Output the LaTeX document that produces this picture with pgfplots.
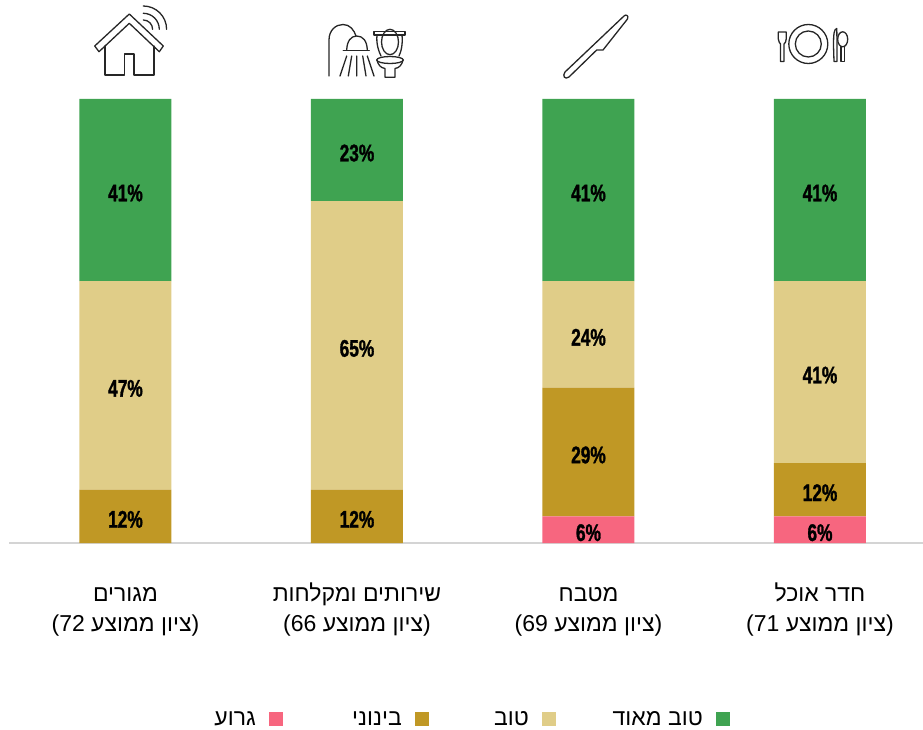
\documentclass[border=0pt]{standalone}
\usepackage{fontspec}
\usepackage{pgfplots}
\pgfplotsset{compat=1.18}
\TeXXeTstate=1
\setmainfont{Liberation Sans}
\newfontfamily\hebfont[Script=Hebrew]{Liberation Sans}
\newfontfamily\valfont[FakeStretch=0.72,BoldFeatures={FakeBold=1.2}]{Liberation Sans}
\definecolor{vgood}{HTML}{3FA351}
\definecolor{good}{HTML}{E0CD88}
\definecolor{mid}{HTML}{C09825}
\definecolor{bad}{HTML}{F7667F}
\definecolor{baseline}{HTML}{D4D4D4}
\pgfplotstableread{
x bad mid good vgood
0 0 12 47 41
1 0 12 65 23
2 6 29 24 41
3 6 12 41 41
}\rooms
\pgfplotsset{
  legsq/.style={legend image code/.code={
    \fill[##1] (0pt,-7pt) rectangle (14pt,7pt);}},
  seg/.style={fill=#1,draw=none,legsq},
}
\begin{document}
\begin{tikzpicture}[x=1pt,y=1pt]
\useasboundingbox (0,0) rectangle (923,729);
\begin{axis}[
  at={(9pt,186pt)},
  anchor=south west,
  scale only axis,
  width=914pt, height=444pt,
  xmin=-0.503, xmax=3.445,
  ymin=0, ymax=100,
  clip=false,
  ybar stacked,
  bar width=92pt,
  axis x line=bottom,
  axis y line=none,
  axis line style={draw=baseline,line width=1.2pt,-},
  xtick={0,1,2,3},
  major tick length=0pt,
  xticklabels={
    {\strut\beginR מגורים\endR\\\strut\beginR(ציון ממוצע \beginL 72\endL)\endR},
    {\strut\beginR שירותים ומקלחות\endR\\\strut\beginR(ציון ממוצע \beginL 66\endL)\endR},
    {\strut\beginR מטבח\endR\\\strut\beginR(ציון ממוצע \beginL 69\endL)\endR},
    {\strut\beginR חדר אוכל\endR\\\strut\beginR(ציון ממוצע \beginL 71\endL)\endR}
  },
  xticklabel style={align=center,font=\fontsize{23}{30}\hebfont,yshift=-34pt},
  nodes near coords={\pgfmathfloatifflags{\pgfplotspointmeta}{0}{}{\pgfmathprintnumber{\pgfplotspointmeta}\%}},
  /pgf/number format/assume math mode=true,
  every node near coord/.append style={
    font=\fontsize{24}{26}\valfont\bfseries, text=black, anchor=center, inner sep=0pt, yshift=-3pt},
  legend columns=4,
  legend plot pos=right,
  legend cell align=right,
  legend style={draw=none,fill=none,inner sep=0pt,at={(205.6pt,-176pt)},anchor=west,
    font=\fontsize{23}{26}\hebfont},
]
\addplot[seg=bad] table[y=bad] {\rooms};
\addlegendentry{\makebox[50pt][r]{\beginR גרוע\endR\hspace{11pt}}}
\addplot[seg=mid] table[y=mid] {\rooms};
\addlegendentry{\makebox[128pt][r]{\beginR בינוני\endR\hspace{11pt}}}
\addplot[seg=good] table[y=good] {\rooms};
\addlegendentry{\makebox[109pt][r]{\beginR טוב\endR\hspace{11pt}}}
\addplot[seg=vgood] table[y=vgood] {\rooms};
\addlegendentry{\makebox[156pt][r]{\beginR טוב מאוד\endR\hspace{11pt}}}
\end{axis}
% icons, in picture pixels from the top left
\begin{scope}[yshift=729pt,y=-1pt,line width=1.3pt,black!85,line join=round,line cap=round]
 % house
 \draw (129.3,14)--(94.7,46)--(99,51.7)--(129.3,23.3)--(159.3,51.7)--(163.3,46)--cycle;
 \draw (105,46)--(105,75)--(124.3,75)--(124.3,54)--(134,54)--(134,75)--(154,75)--(154,46);
 \draw (143.3,6) arc[start angle=-90,end angle=0,radius=23.3];
 \draw (143.3,13.3) arc[start angle=-90,end angle=0,radius=16];
 \draw (143.3,20) arc[start angle=-90,end angle=0,radius=9.3];
 % shower
 \draw (329,76)--(329,40) .. controls (329,30) and (336,24.5) .. (343,24.5) .. controls (350,24.5) and (354,30) .. (356,36);
 \draw (346.7,50) .. controls (347,41) and (351,36) .. (356.7,36) .. controls (363,36) and (367,41) .. (367.3,50);
 \draw (343.3,50.3)--(369.3,50.3);
 \draw (346.7,56)--(340,76) (351.7,56)--(348.3,76) (356.7,56)--(356.7,76) (362.7,56)--(366,76) (367.3,56)--(374,76);
 % toilet
 \draw (374,31.7)--(405,31.7)--(405,35)--(374,35)--cycle;
 \draw (390,42) ellipse[x radius=8.5,y radius=12.7];
 \draw (377,35) .. controls (376,44) and (379,52) .. (381,56);
 \draw (402,35) .. controls (403,44) and (401,52) .. (399,56);
 \draw (390,60) ellipse[x radius=13.3,y radius=3.5];
 \draw (377,60) .. controls (378,65) and (381,68) .. (385,68.5)--(385,77.3)--(395,77.3)--(395,68.5) .. controls (399,68) and (402,65) .. (403,60);
 % knife
 \draw (624,16) .. controls (626,14) and (629,15.5) .. (627.5,19) -- (603,50)
   .. controls (601,51) and (598,49) .. (596.7,50) -- (569,77) .. controls (565,80) and (562,76) .. (565,72) -- cycle;
 % plate
 \draw (808.3,44) circle[radius=19.5];
 \draw (808.3,44) circle[radius=13];
 \draw (778.3,32)--(778.3,39) .. controls (778.3,42) and (780,43) .. (780.5,44)--(780.5,61.5)--(784,61.5)--(784,44) .. controls (785,43) and (786.2,42) .. (786.2,39)--(786.2,32)--cycle;
 \draw (834,61.5)--(837,61.5)--(837,46)--(836.8,28.5) .. controls (834,29) and (833.5,34) .. (833.5,46)--cycle;
 \draw (842.7,39.3) ellipse[x radius=5,y radius=7.5];
 \draw (841,46.5)--(841,61.5)--(844.4,61.5)--(844.4,46.5);
\end{scope}
\end{tikzpicture}
\end{document}
